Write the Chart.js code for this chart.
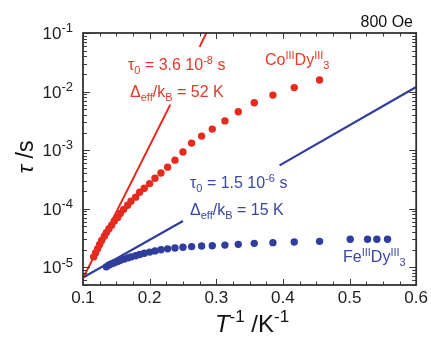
<!DOCTYPE html>
<html><head><meta charset="utf-8">
<script src="https://cdn.jsdelivr.net/npm/chart.js@4/dist/chart.umd.min.js"></script>
<style>html,body{margin:0;padding:0;background:#fff}#c{display:block;width:431px;height:337px}</style>
</head><body><canvas id="c" width="431" height="337"></canvas>
<script>
// ---- data ----
const xTickValues = [0.1, 0.2, 0.3, 0.4, 0.5, 0.6];
const yTickExponents = [-1, -2, -3, -4, -5];

// Co(III)Dy(III)3  (red dots) : T^-1 (K^-1) and tau (s)
const coInvT = [0.116,0.119,0.122,0.125,0.128,0.132,0.135,0.139,0.143,0.147,0.152,0.156,0.161,0.167,0.172,0.179,0.185,0.192,0.200,0.208,0.217,0.227,0.238,0.250,0.263,0.278,0.294,0.313,0.333,0.357,0.385,0.417,0.455];
const coTau  = [1.51e-5,1.78e-5,2.09e-5,2.45e-5,2.88e-5,3.39e-5,3.89e-5,4.57e-5,5.25e-5,6.17e-5,7.08e-5,8.32e-5,9.77e-5,1.15e-4,1.35e-4,1.58e-4,1.91e-4,2.24e-4,2.69e-4,3.31e-4,4.07e-4,5.13e-4,6.76e-4,9.33e-4,1.32e-3,1.74e-3,2.29e-3,3.16e-3,4.52e-3,6.46e-3,8.71e-3,1.17e-2,1.58e-2];

// Fe(III)Dy(III)3  (blue dots)
const feInvT = [0.135,0.139,0.143,0.147,0.152,0.156,0.161,0.167,0.172,0.179,0.185,0.192,0.200,0.208,0.217,0.227,0.238,0.250,0.263,0.278,0.294,0.313,0.333,0.357,0.385,0.417,0.455,0.501,0.527,0.541,0.557];
const feTau  = [1.02e-5,1.10e-5,1.15e-5,1.20e-5,1.26e-5,1.32e-5,1.38e-5,1.45e-5,1.51e-5,1.58e-5,1.66e-5,1.74e-5,1.82e-5,1.91e-5,2.00e-5,2.07e-5,2.14e-5,2.21e-5,2.26e-5,2.32e-5,2.34e-5,2.40e-5,2.47e-5,2.57e-5,2.64e-5,2.71e-5,2.78e-5,3.02e-5,3.02e-5,3.02e-5,3.02e-5];

// Arrhenius fit lines (broken where the labels sit)
const coFitInvT = [0.100, 0.231, 0.250, 0.275, 0.290];
const coFitTau  = [6.5e-6, 6.0e-3, null, 5.8e-2, 1.3e-1];
const feFitInvT = [0.100, 0.250, 0.300, 0.395, 0.600];
const feFitTau  = [6.7e-6, 6.2e-5, null, 5.5e-4, 1.2e-2];

// ---- drawing ----
const RED = '#e62a1e', BLUE = '#2f3d9c', RED_T = '#e23a28', BLUE_T = '#3a48a2';
const FAM = '"Liberation Sans", Arial, Helvetica, sans-serif';

const pts = (xs, ys) => xs.map((x, i) => ({x, y: ys[i]}));

function rich(ctx, x, y, parts, size, color, align, supRatio) {
  const r = supRatio || 0.68;
  const f = k => {
    const s = (k === 'sup' || k === 'sub') ? Math.round(size * r) : size;
    return ((k === 'i') ? 'italic ' : '') + s + 'px ' + FAM;
  };
  let w = 0;
  parts.forEach(p => { ctx.font = f(p[1]); w += ctx.measureText(p[0]).width; });
  let cx = align === 'right' ? x - w : (align === 'center' ? x - w / 2 : x);
  ctx.textAlign = 'left'; ctx.textBaseline = 'alphabetic'; ctx.fillStyle = color;
  parts.forEach(p => {
    ctx.font = f(p[1]);
    let dy = 0;
    if (p[1] === 'sup') dy = -size * 0.40;
    if (p[1] === 'sub') dy = size * 0.22;
    ctx.fillText(p[0], cx, y + dy);
    cx += ctx.measureText(p[0]).width;
  });
}

const decor = {
  id: 'decor',
  afterDatasetsDraw(chart) {
    const {ctx, chartArea: a, scales: {x, y}} = chart;
    ctx.save();
    ctx.strokeStyle = '#3a3a3a';
    ctx.lineWidth = 1;
    for (let i = 0; i <= 20; i++) {
      const v = 0.1 + i * 0.025;
      const px = Math.round(x.getPixelForValue(v)) + 0.5;
      const len = (i % 4 === 0) ? 6 : 3.5;
      ctx.beginPath();
      ctx.moveTo(px, a.bottom); ctx.lineTo(px, a.bottom - len);
      ctx.moveTo(px, a.top); ctx.lineTo(px, a.top + len);
      ctx.stroke();
    }
    for (let k = -6; k <= -1; k++) {
      for (let m = 1; m <= 9; m++) {
        const v = m * Math.pow(10, k);
        if (v < y.min * 0.999 || v > y.max * 1.001) continue;
        const py = Math.round(y.getPixelForValue(v)) + 0.5;
        const len = (m === 1) ? 7 : 4;
        ctx.beginPath();
        ctx.moveTo(a.left, py); ctx.lineTo(a.left + len, py);
        ctx.moveTo(a.right, py); ctx.lineTo(a.right - len, py);
        ctx.stroke();
      }
    }
    ctx.lineWidth = 1.8;
    ctx.strokeStyle = '#333';
    ctx.strokeRect(a.left, a.top, a.right - a.left, a.bottom - a.top);
    ctx.restore();
  },
  afterDraw(chart) {
    const {ctx, scales: {y}} = chart;
    ctx.save();
    yTickExponents.forEach(k => {
      const py = y.getPixelForValue(Math.pow(10, k));
      rich(ctx, 73, py + 6, [['10', 'n'], [String(k), 'sup']], 17, '#222', 'right', 0.74);
    });
    rich(ctx, 252, 332, [['T', 'i'], ['-1', 'sup'], [' /K', 'n'], ['-1', 'sup']], 24, '#111', 'center', 0.72);
    ctx.save();
    ctx.translate(33, 157);
    ctx.rotate(-Math.PI / 2);
    rich(ctx, 0, 0, [['τ', 'i'], [' /s', 'n']], 23, '#111', 'center');
    ctx.restore();
    rich(ctx, 413, 27, [['800 Oe', 'n']], 16, '#111', 'right');
    rich(ctx, 128, 70, [['τ', 'n'], ['0', 'sub'], [' = 3.6 10', 'n'], ['-8', 'sup'], [' s', 'n']], 16, RED_T, 'left');
    rich(ctx, 130, 97, [['Δ', 'n'], ['eff', 'sub'], ['/k', 'n'], ['B', 'sub'], [' = 52 K', 'n']], 16, RED_T, 'left');
    rich(ctx, 265, 65, [['Co', 'n'], ['III', 'sup'], ['Dy', 'n'], ['III', 'sup'], ['3', 'sub']], 16, RED_T, 'left');
    rich(ctx, 190, 188, [['τ', 'n'], ['0', 'sub'], [' = 1.5 10', 'n'], ['-6', 'sup'], [' s', 'n']], 16, BLUE_T, 'left');
    rich(ctx, 190, 215, [['Δ', 'n'], ['eff', 'sub'], ['/k', 'n'], ['B', 'sub'], [' = 15 K', 'n']], 16, BLUE_T, 'left');
    rich(ctx, 343, 262, [['Fe', 'n'], ['III', 'sup'], ['Dy', 'n'], ['III', 'sup'], ['3', 'sub']], 16, BLUE_T, 'left');
    ctx.restore();
  }
};

new Chart(document.getElementById('c'), {
  type: 'scatter',
  data: {
    datasets: [
      {label: 'CoIIIDyIII3', data: pts(coInvT, coTau), backgroundColor: RED, borderColor: RED, pointRadius: 3.7, borderWidth: 0, showLine: false},
      {label: 'FeIIIDyIII3', data: pts(feInvT, feTau), backgroundColor: BLUE, borderColor: BLUE, pointRadius: 3.7, borderWidth: 0, showLine: false},
      {label: 'Co fit', data: pts(coFitInvT, coFitTau), borderColor: RED, borderWidth: 2, pointRadius: 0, showLine: true, spanGaps: false},
      {label: 'Fe fit', data: pts(feFitInvT, feFitTau), borderColor: BLUE, borderWidth: 2.2, pointRadius: 0, showLine: true, spanGaps: false}
    ]
  },
  options: {
    responsive: false,
    animation: false,
    devicePixelRatio: 1,
    layout: {padding: {left: 0, top: 33, right: 14, bottom: 0}},
    plugins: {legend: {display: false}, tooltip: {enabled: false}},
    scales: {
      x: {
        type: 'linear', min: 0.1, max: 0.6,
        afterBuildTicks: s => { s.ticks = xTickValues.map(v => ({value: v})); },
        ticks: {callback: v => Number(v).toFixed(1), font: {family: FAM, size: 17}, color: '#222', padding: 3, maxRotation: 0, autoSkip: false},
        grid: {display: false, drawTicks: false},
        border: {display: false},
        afterFit: s => { s.height = 52; }
      },
      y: {
        type: 'logarithmic', min: 5e-6, max: 0.1,
        ticks: {display: false},
        grid: {display: false, drawTicks: false},
        border: {display: false},
        afterFit: s => { s.width = 83; }
      }
    }
  },
  plugins: [decor]
});
</script>
</body></html>
